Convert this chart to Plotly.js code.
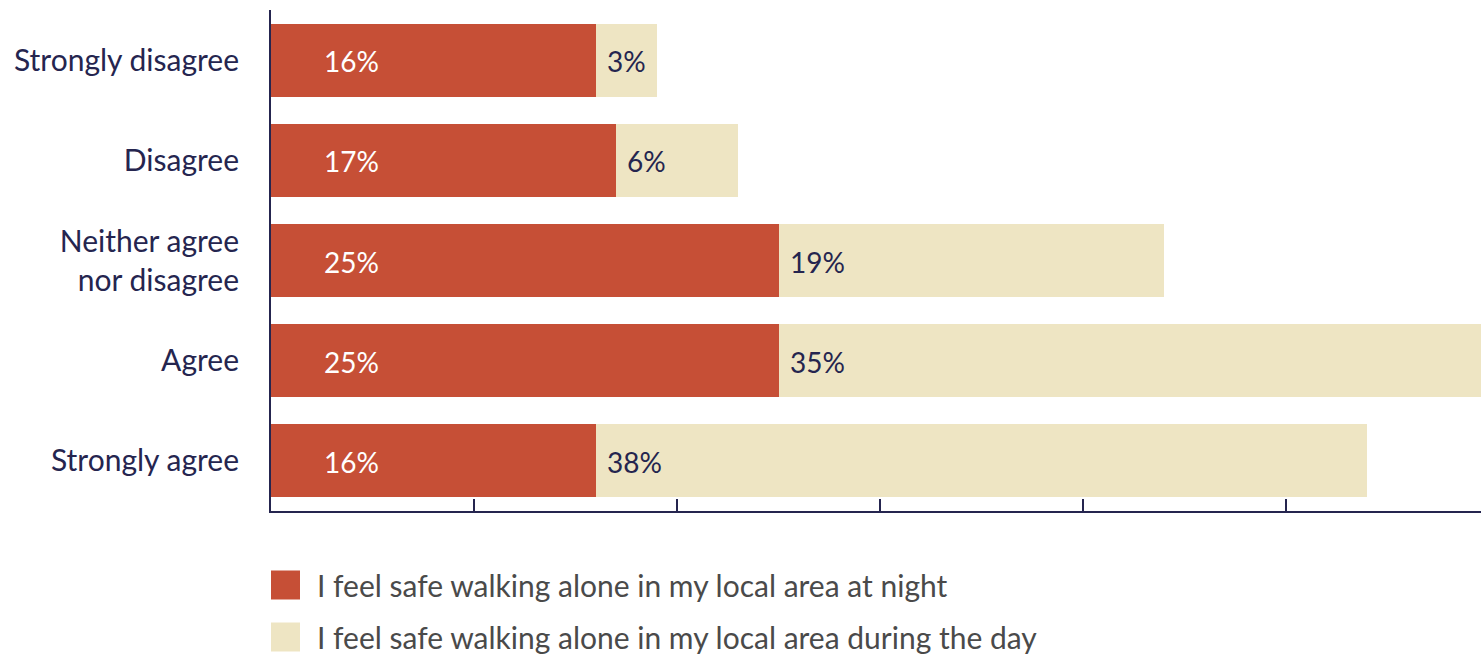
<!DOCTYPE html>
<html>
<head>
<meta charset="utf-8">
<script src="https://cdn.plot.ly/plotly-3.0.1.min.js"></script>
<style>html,body{margin:0;padding:0;background:#fff;}#chart{width:1481px;height:657px;}</style>
</head>
<body>
<div id="chart"></div>
<script>
const categories = ["Strongly disagree", "Disagree", "Neither agree<br>nor disagree", "Agree", "Strongly agree"];
const nightValues = [16, 17, 25, 25, 16];
const dayValues = [3, 6, 19, 35, 38];
const seriesNames = ["I feel safe walking alone in my local area at night", "I feel safe walking alone in my local area during the day"];
const seriesColors = ["#C64F36", "#EEE5C3"];

const FONT = "Lato, 'Open Sans', sans-serif";
const NAVY = "#25254F";
const FS = 30;
const LFS = 28;

const traces = [
  {type: "bar", orientation: "h", name: seriesNames[0], y: categories, x: nightValues,
   marker: {color: seriesColors[0]}, hoverinfo: "x+name"},
  {type: "bar", orientation: "h", name: seriesNames[1], y: categories, x: dayValues,
   marker: {color: seriesColors[1]}, hoverinfo: "x+name"}
];

const shapes = [], annotations = [];
categories.forEach((c, i) => {
  annotations.push({xref: "x", yref: "y", x: 2.5, y: c, xanchor: "left", yanchor: "middle", yshift: -1,
    showarrow: false, text: nightValues[i] + "%", font: {family: FONT, size: LFS, color: "#ffffff"}});
  annotations.push({xref: "x", yref: "y", x: nightValues[i] + 0.45, y: c, xanchor: "left", yanchor: "middle", yshift: -1,
    showarrow: false, text: dayValues[i] + "%", font: {family: FONT, size: LFS, color: NAVY}});
});

const legendY = [-0.1477, -0.2515];
seriesNames.forEach((n, i) => {
  shapes.push({type: "rect", xref: "paper", yref: "paper", xsizemode: "pixel", ysizemode: "pixel",
    xanchor: 0, yanchor: legendY[i], x0: 0, x1: 29, y0: -14.5, y1: 14.5,
    fillcolor: seriesColors[i], line: {width: 0}});
  annotations.push({xref: "paper", yref: "paper", x: 0, y: legendY[i], xanchor: "left", yanchor: "middle",
    xshift: 44, showarrow: false, text: n, font: {family: FONT, size: FS, color: "#4A4A4A"}});
});

const layout = {
  width: 1481, height: 657,
  margin: {l: 271, r: 0, t: 10, b: 146, pad: 0},
  paper_bgcolor: "#ffffff", plot_bgcolor: "#ffffff",
  barmode: "stack", bargap: 0.27, showlegend: false,
  font: {family: FONT, size: FS, color: NAVY},
  xaxis: {range: [0, 59.6], dtick: 10, tick0: 0, showticklabels: false, showgrid: false, zeroline: false,
    showline: true, linecolor: NAVY, linewidth: 2, ticks: "inside", ticklen: 12, tickwidth: 2, tickcolor: NAVY, fixedrange: true},
  yaxis: {autorange: "reversed", showgrid: false, zeroline: false, showline: true, linecolor: NAVY, linewidth: 2,
    ticks: "", ticklabelstandoff: 24, tickfont: {family: FONT, size: FS, color: NAVY}, fixedrange: true},
  shapes: shapes, annotations: annotations
};

Plotly.newPlot("chart", traces, layout, {displayModeBar: false, staticPlot: true});
</script>
</body>
</html>
